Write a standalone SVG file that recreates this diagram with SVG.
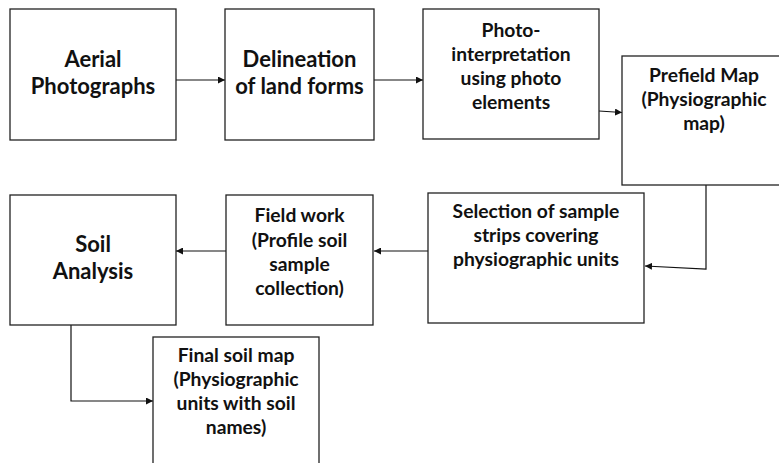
<svg xmlns="http://www.w3.org/2000/svg" width="779" height="463" viewBox="0 0 779 463">
<style>
.box{fill:#fff;stroke:#222;stroke-width:1.3}
.t{font-family:Lato,"Open Sans","Liberation Sans",sans-serif;font-weight:bold;fill:#111;text-anchor:middle}
.big{font-size:22px}
.sm{font-size:19.3px}
.c{fill:none;stroke:#111;stroke-width:1.2}
</style>
<defs>
<marker id="ah" viewBox="0 0 10 10" refX="10" refY="5" markerWidth="7" markerHeight="7" markerUnits="userSpaceOnUse" orient="auto">
<path d="M0,0 L10,5 L0,10 z" fill="#111"/>
</marker>
</defs>
<rect width="779" height="463" fill="#fff"/>
<g id="connectors">
<line class="c" x1="176" y1="80" x2="225" y2="80" marker-end="url(#ah)"/>
<line class="c" x1="374" y1="80" x2="423" y2="80" marker-end="url(#ah)"/>
<line class="c" x1="599" y1="111" x2="622" y2="112.5" marker-end="url(#ah)"/>
<polyline class="c" points="706,185 706,269 645,266" marker-end="url(#ah)"/>
<line class="c" x1="428" y1="251" x2="374" y2="251" marker-end="url(#ah)"/>
<line class="c" x1="226" y1="251" x2="176" y2="251" marker-end="url(#ah)"/>
<polyline class="c" points="71,323 71,401 153,401" marker-end="url(#ah)"/>
</g>
<g id="aerial">
<rect class="box" x="10" y="9" width="166" height="131"/>
<text class="t big" x="93" y="67">Aerial</text>
<text class="t big" x="93" y="94">Photographs</text>
</g>
<g id="delineation">
<rect class="box" x="225" y="9" width="149" height="131"/>
<text class="t big" x="299.5" y="67">Delineation</text>
<text class="t big" x="299.5" y="94">of land forms</text>
</g>
<g id="photointerp">
<rect class="box" x="423" y="9" width="176" height="130"/>
<text class="t sm" x="511" y="37">Photo-</text>
<text class="t sm" x="511" y="61">interpretation</text>
<text class="t sm" x="511" y="85">using photo</text>
<text class="t sm" x="511" y="109">elements</text>
</g>
<g id="prefield">
<rect class="box" x="622" y="56" width="164" height="129"/>
<text class="t sm" x="704" y="82">Prefield Map</text>
<text class="t sm" x="704" y="106">(Physiographic</text>
<text class="t sm" x="704" y="130">map)</text>
</g>
<g id="selection">
<rect class="box" x="428" y="193" width="216" height="130"/>
<text class="t sm" x="536" y="218">Selection of sample</text>
<text class="t sm" x="536" y="242">strips covering</text>
<text class="t sm" x="536" y="266">physiographic units</text>
</g>
<g id="fieldwork">
<rect class="box" x="226" y="195" width="147" height="130"/>
<text class="t sm" x="299.5" y="222">Field work</text>
<text class="t sm" x="299.5" y="247">(Profile soil</text>
<text class="t sm" x="299.5" y="271">sample</text>
<text class="t sm" x="299.5" y="295">collection)</text>
</g>
<g id="soilanalysis">
<rect class="box" x="10" y="195" width="166" height="130"/>
<text class="t big" x="93" y="252">Soil</text>
<text class="t big" x="93" y="279">Analysis</text>
</g>
<g id="finalmap">
<rect class="box" x="153" y="337" width="166" height="140"/>
<text class="t sm" x="236" y="362">Final soil map</text>
<text class="t sm" x="236" y="386">(Physiographic</text>
<text class="t sm" x="236" y="410">units with soil</text>
<text class="t sm" x="236" y="434">names)</text>
</g>
</svg>
